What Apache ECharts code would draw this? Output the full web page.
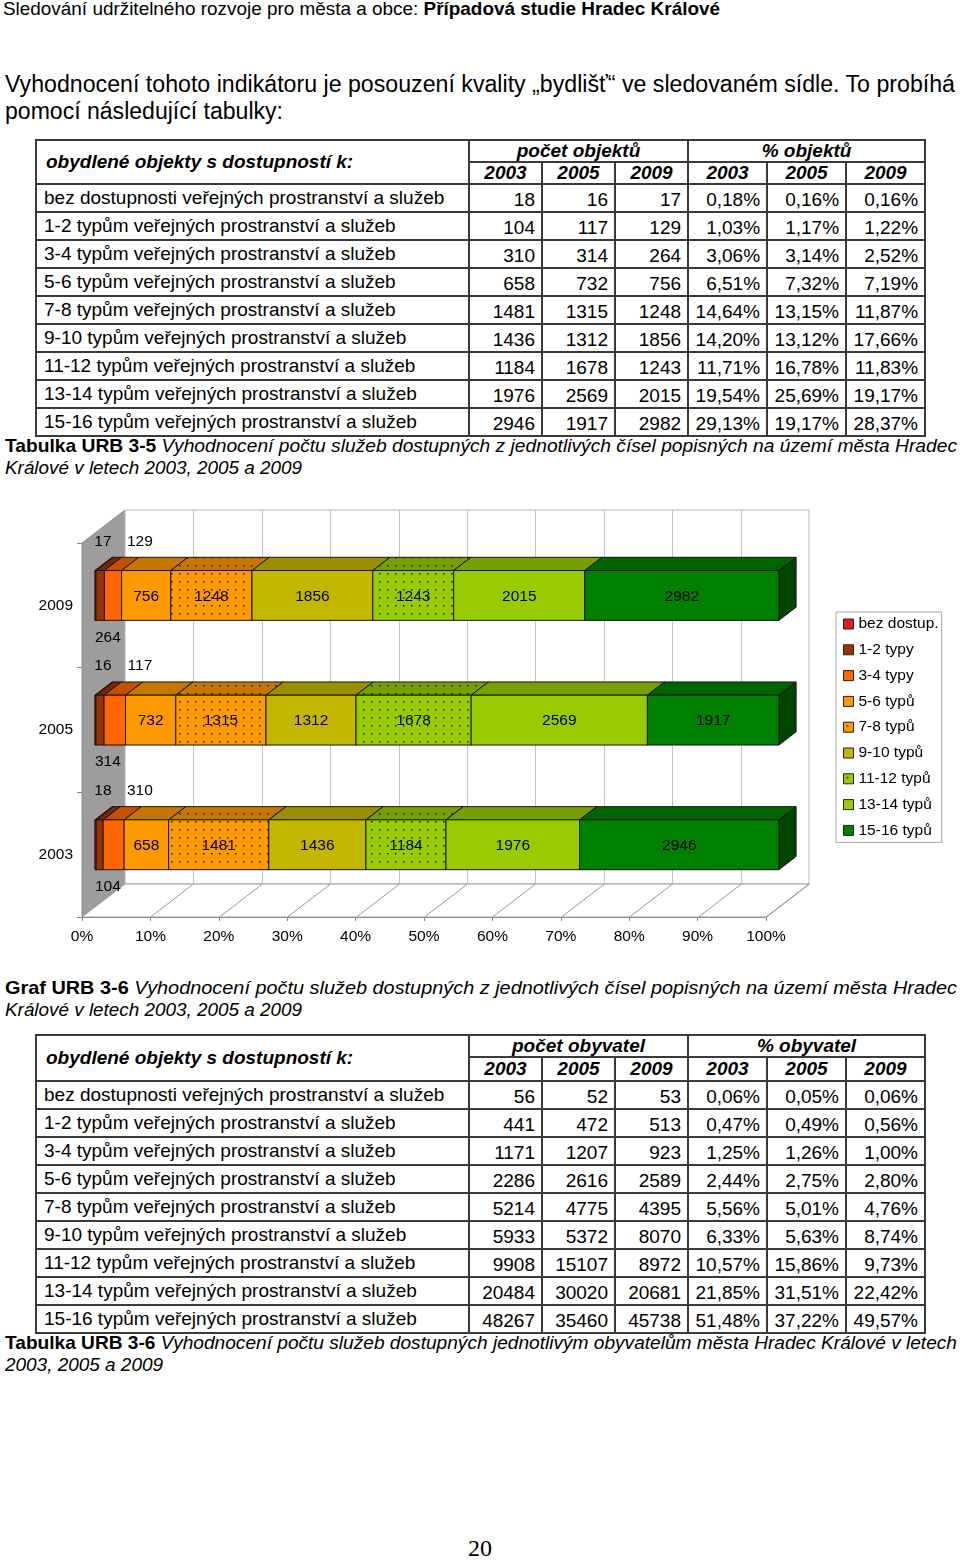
<!DOCTYPE html>
<html lang="cs">
<head>
<meta charset="utf-8">
<title>Hradec Králové</title>
<script src="https://cdn.jsdelivr.net/npm/echarts/dist/echarts.min.js"></script>
<style>
  html, body { margin: 0; padding: 0; background: #fff; }
  body { width: 960px; height: 1561px; position: relative; overflow: hidden;
         font-family: "Liberation Sans", Arial, sans-serif; color: #000; }
  .t { position: absolute; white-space: nowrap; transform-origin: 0 0; }
  table.tb { position: absolute; left: 35px; width: 889px; border-collapse: collapse; table-layout: fixed;
             font-size: 19px; }
  table.tb td { border: 2px solid #3a3a3a; padding: 0; overflow: hidden; white-space: nowrap; line-height: 20px; }
  table.tb td.lab { padding-left: 7px; text-align: left; }
  table.tb td.num { text-align: right; padding-right: 6px; padding-top: 3px; }
  table.tb td.hd { font-weight: bold; font-style: italic; text-align: center; }
  table.tb td.hl { font-weight: bold; font-style: italic; text-align: left; padding-left: 9px; }
  #chart { position: absolute; left: 0; top: 490px; width: 960px; height: 470px; }
</style>
</head>
<body>
<div class="t" data-w="717" style="left:3px;top:-2px;font-size:19px;line-height:21px;">Sledování udržitelného rozvoje pro města a obce: <b>Případová studie Hradec Králové</b></div>
<div class="t" data-w="950" style="left:5px;top:71px;font-size:23px;line-height:27px;">Vyhodnocení tohoto indikátoru je posouzení kvality „bydlišť“ ve sledovaném sídle. To probíhá</div>
<div class="t" data-w="278" style="left:5px;top:98px;font-size:23px;line-height:27px;">pomocí následující tabulky:</div>

<table class="tb" id="tab1" style="top:139px;"></table>

<div class="t" data-w="952" style="left:5px;top:435px;font-size:19px;line-height:22px;"><b>Tabulka URB 3-5</b> <i>Vyhodnocení počtu služeb dostupných z jednotlivých čísel popisných na území města Hradec</i></div>
<div class="t" data-w="297" style="left:5px;top:457px;font-size:19px;line-height:22px;"><i>Králové v letech 2003, 2005 a 2009</i></div>

<div id="chart"></div>

<div class="t" data-w="952" style="left:5px;top:977px;font-size:19px;line-height:22px;"><b>Graf URB 3-6</b> <i>Vyhodnocení počtu služeb dostupných z jednotlivých čísel popisných na území města Hradec</i></div>
<div class="t" data-w="297" style="left:5px;top:999px;font-size:19px;line-height:22px;"><i>Králové v letech 2003, 2005 a 2009</i></div>

<table class="tb" id="tab2" style="top:1034px;"></table>

<div class="t" data-w="952" style="left:5px;top:1332px;font-size:19px;line-height:22px;"><b>Tabulka URB 3-6</b> <i>Vyhodnocení počtu služeb dostupných jednotlivým obyvatelům města Hradec Králové v letech</i></div>
<div class="t" data-w="158" style="left:5px;top:1354px;font-size:19px;line-height:22px;"><i>2003, 2005 a 2009</i></div>

<div style="position:absolute;left:0;width:960px;top:1535px;text-align:center;font-family:'Liberation Serif','Times New Roman',serif;font-size:24px;line-height:26px;">20</div>

<script>
// ---------------- DATA ----------------
const years = ['2003', '2005', '2009'];
const categories = ['bez dostup.', '1-2 typy', '3-4 typy', '5-6 typů', '7-8 typů', '9-10 typů', '11-12 typů', '13-14 typů', '15-16 typů'];
const rowLabels = [
  'bez dostupnosti veřejných prostranství a služeb',
  '1-2 typům veřejných prostranství a služeb',
  '3-4 typům veřejných prostranství a služeb',
  '5-6 typům veřejných prostranství a služeb',
  '7-8 typům veřejných prostranství a služeb',
  '9-10 typům veřejných prostranství a služeb',
  '11-12 typům veřejných prostranství a služeb',
  '13-14 typům veřejných prostranství a služeb',
  '15-16 typům veřejných prostranství a služeb'
];
const objects2003 = [18, 104, 310, 658, 1481, 1436, 1184, 1976, 2946];
const objects2005 = [16, 117, 314, 732, 1315, 1312, 1678, 2569, 1917];
const objects2009 = [17, 129, 264, 756, 1248, 1856, 1243, 2015, 2982];
const objPct2003 = ['0,18%', '1,03%', '3,06%', '6,51%', '14,64%', '14,20%', '11,71%', '19,54%', '29,13%'];
const objPct2005 = ['0,16%', '1,17%', '3,14%', '7,32%', '13,15%', '13,12%', '16,78%', '25,69%', '19,17%'];
const objPct2009 = ['0,16%', '1,22%', '2,52%', '7,19%', '11,87%', '17,66%', '11,83%', '19,17%', '28,37%'];
const residents2003 = [56, 441, 1171, 2286, 5214, 5933, 9908, 20484, 48267];
const residents2005 = [52, 472, 1207, 2616, 4775, 5372, 15107, 30020, 35460];
const residents2009 = [53, 513, 923, 2589, 4395, 8070, 8972, 20681, 45738];
const resPct2003 = ['0,06%', '0,47%', '1,25%', '2,44%', '5,56%', '6,33%', '10,57%', '21,85%', '51,48%'];
const resPct2005 = ['0,05%', '0,49%', '1,26%', '2,75%', '5,01%', '5,63%', '15,86%', '31,51%', '37,22%'];
const resPct2009 = ['0,06%', '0,56%', '1,00%', '2,80%', '4,76%', '8,74%', '9,73%', '22,42%', '49,57%'];
const xTicks = [0, 10, 20, 30, 40, 50, 60, 70, 80, 90, 100];
// where the labels of the three thin segments sit (per year: 2003, 2005, 2009; per series 0..2)
const smallLabelSlots = [['a1', 'b', 'a2'], ['a1', 'a2', 'b'], ['a1', 'a2', 'b']];

// ---------------- TABLES ----------------
function buildTable(id, group, c1, c2, c3, p1, p2, p3) {
  let h = '<colgroup><col style="width:433px"><col style="width:73px"><col style="width:73px"><col style="width:73px">' +
          '<col style="width:79px"><col style="width:79px"><col style="width:79px"></colgroup>';
  h += '<tr style="height:22px"><td class="hl" rowspan="2">obydlené objekty s dostupností k:</td>' +
       '<td class="hd" colspan="3">počet ' + group + '</td><td class="hd" colspan="3">% ' + group + '</td></tr>';
  h += '<tr style="height:' + (id === 'tab2' ? 24 : 22) + 'px">';
  for (let k = 0; k < 2; k++) years.forEach(y => { h += '<td class="hd">' + y + '</td>'; });
  h += '</tr>';
  rowLabels.forEach((lab, i) => {
    h += '<tr style="height:28px"><td class="lab">' + lab + '</td>' +
      '<td class="num">' + c1[i] + '</td><td class="num">' + c2[i] + '</td><td class="num">' + c3[i] + '</td>' +
      '<td class="num">' + p1[i] + '</td><td class="num">' + p2[i] + '</td><td class="num">' + p3[i] + '</td></tr>';
  });
  document.getElementById(id).innerHTML = h;
}
buildTable('tab1', 'objektů', objects2003, objects2005, objects2009, objPct2003, objPct2005, objPct2009);
buildTable('tab2', 'obyvatel', residents2003, residents2005, residents2009, resPct2003, resPct2005, resPct2009);

// ---------------- TEXT FITTING ----------------
document.querySelectorAll('.t[data-w]').forEach(el => {
  const w = el.getBoundingClientRect().width;
  const target = parseFloat(el.getAttribute('data-w'));
  if (w > 0) el.style.transform = 'scaleX(' + (target / w) + ')';
});

// ---------------- CHART ----------------
const FONT = '"Liberation Sans", Arial, sans-serif';
const DX = 43, DY = -33;          // depth projection of the 3D box
const BAR_BAND = 0.4;             // bar thickness as share of category band
const BAR_D0 = 0.3, BAR_D = 0.4;  // bar position/extent in depth

const baseColors = ['#dc1e1e', '#993300', '#ff6600', '#ff9900', '#ff9900', '#c4b700', '#99cc00', '#99cc00', '#008000'];
const dotted = [false, false, false, false, true, false, true, false, false];

function shade(hex, f) {
  const n = parseInt(hex.slice(1), 16);
  const r = Math.round(((n >> 16) & 255) * f), g = Math.round(((n >> 8) & 255) * f), b = Math.round((n & 255) * f);
  return 'rgb(' + r + ',' + g + ',' + b + ')';
}
function makePattern(fill) {
  const c = document.createElement('canvas');
  c.width = 8; c.height = 8;
  const ctx = c.getContext('2d');
  ctx.fillStyle = fill; ctx.fillRect(0, 0, 8, 8);
  ctx.fillStyle = '#1a1a1a';
  ctx.fillRect(3, 3, 1.5, 1.5);
  return { image: c, repeat: 'repeat' };
}
function faceFill(i, f) {
  const col = f === 1 ? baseColors[i] : shade(baseColors[i], f);
  return dotted[i] ? makePattern(col) : col;
}

const objectsByYear = [objects2003, objects2005, objects2009];

function seriesData(i) {
  return objectsByYear.map((counts, yi) => {
    const total = counts.reduce((a, b) => a + b, 0);
    let before = 0;
    for (let k = 0; k < i; k++) before += counts[k];
    const s = before / total * 100, e = (before + counts[i]) / total * 100;
    return [s, e, yi, counts[i], i < 3 ? smallLabelSlots[yi][i] : 'in'];
  });
}

function renderFrame(params, api) {
  const cs = params.coordSys;
  const x0 = cs.x, yT = cs.y, yB = cs.y + cs.height;
  const x1 = api.coord([100, 0])[0];
  const ch = [];
  ch.push({ type: 'polygon', shape: { points: [[x0, yT], [x0 + DX, yT + DY], [x0 + DX, yB + DY], [x0, yB]] },
            style: { fill: '#9d9d9d', stroke: '#8c8c8c', lineWidth: 1 } });
  ch.push({ type: 'rect', shape: { x: x0 + DX, y: yT + DY, width: x1 - x0, height: yB - yT },
            style: { fill: '#fff', stroke: '#b8b8b8', lineWidth: 1 } });
  ch.push({ type: 'polygon', shape: { points: [[x0, yB], [x1, yB], [x1 + DX, yB + DY], [x0 + DX, yB + DY]] },
            style: { fill: '#fff', stroke: '#9a9a9a', lineWidth: 1 } });
  xTicks.forEach(v => {
    const px = Math.round(api.coord([v, 0])[0]) + 0.5;
    if (v > 0 && v < 100) {
      ch.push({ type: 'line', shape: { x1: px + DX, y1: yT + DY, x2: px + DX, y2: yB + DY },
                style: { stroke: '#c4c4c4', lineWidth: 1 } });
    }
    if (v > 0) {
      ch.push({ type: 'line', shape: { x1: px, y1: yB, x2: px + DX, y2: yB + DY },
                style: { stroke: '#9a9a9a', lineWidth: 1 } });
    }
  });
  return { type: 'group', children: ch };
}

function makeBarRenderer(i) {
  const front = faceFill(i, 1), top = faceFill(i, 0.78), side = faceFill(i, 0.55);
  const pts = seriesData(i);
  return function (params, api) {
    const s = api.value(0), e = api.value(1), cat = api.value(2), raw = api.value(3);
    const slot = pts[params.dataIndex][4];
    const a = api.coord([s, cat]), b = api.coord([e, cat]), z0 = api.coord([0, cat]);
    const band = api.size([0, 1])[1];
    const h = band * BAR_BAND;
    const fx = DX * BAR_D0, fy = DY * BAR_D0, bx = DX * BAR_D, by = DY * BAR_D;
    const L = a[0] + fx, R = b[0] + fx, T = a[1] + fy - h / 2, B = T + h;
    const st = { stroke: '#151515', lineWidth: 1 };
    const ch = [
      { type: 'polygon', shape: { points: [[R, T], [R + bx, T + by], [R + bx, B + by], [R, B]] },
        style: Object.assign({ fill: side }, st) },
      { type: 'polygon', shape: { points: [[L, T], [L + bx, T + by], [R + bx, T + by], [R, T]] },
        style: Object.assign({ fill: top }, st) },
      { type: 'rect', shape: { x: L, y: T, width: R - L, height: h },
        style: Object.assign({ fill: front }, st) }
    ];
    let tx, ty;
    const left0 = z0[0] + fx;
    if (slot === 'in') { tx = (L + R) / 2; ty = (T + B) / 2 + 1; }
    else if (slot === 'a1') { tx = left0 + 8; ty = T - 29; }
    else if (slot === 'a2') { tx = left0 + 45; ty = T - 29; }
    else { tx = left0 + 13; ty = B + 17; }
    ch.push({ type: 'text', z2: 100,
      style: { text: String(raw), x: tx, y: ty, textAlign: 'center', textVerticalAlign: 'middle',
               font: '15.5px ' + FONT, fill: '#000' } });
    return { type: 'group', children: ch };
  };
}

const series = [{
  type: 'custom', name: '_frame', renderItem: renderFrame, data: [[0, 0]], silent: true, z: 1,
  encode: { x: 0, y: 1 }
}];
categories.forEach((name, i) => {
  series.push({
    type: 'custom', name: name, z: 2,
    renderItem: makeBarRenderer(i),
    itemStyle: { color: faceFill(i, 1), borderColor: '#222', borderWidth: 1 },
    encode: { x: [0, 1], y: 2 },
    data: seriesData(i)
  });
});

const chart = echarts.init(document.getElementById('chart'), null, { renderer: 'canvas' });
chart.setOption({
  animation: false,
  backgroundColor: 'transparent',
  textStyle: { fontFamily: FONT },
  grid: { left: 82, top: 53, width: 684, height: 374 },
  xAxis: {
    type: 'value', min: 0, max: 100, interval: 10,
    axisLine: { show: true, lineStyle: { color: '#8a8a8a' } },
    axisTick: { show: true, length: 4, lineStyle: { color: '#8a8a8a' } },
    splitLine: { show: false },
    axisLabel: { formatter: '{value}%', fontSize: 15.5, color: '#000', margin: 12, fontFamily: FONT }
  },
  yAxis: {
    type: 'category', data: years,
    axisLine: { show: true, lineStyle: { color: '#8a8a8a' } },
    axisTick: { show: true, length: 5, lineStyle: { color: '#8a8a8a' } },
    axisLabel: { fontSize: 15.5, color: '#000', margin: 9, fontFamily: FONT }
  },
  legend: {
    data: categories, orient: 'vertical', left: 836, top: 122,
    itemWidth: 10, itemHeight: 10, itemGap: 9.8, padding: [4, 3, 4, 7],
    borderColor: '#a8a8a8', borderWidth: 1, backgroundColor: '#fff',
    icon: 'rect', selectedMode: false,
    itemStyle: { borderColor: '#222', borderWidth: 1 },
    textStyle: { fontSize: 15.5, color: '#000', lineHeight: 16, fontFamily: FONT }
  },
  series: series
});
</script>
</body>
</html>
